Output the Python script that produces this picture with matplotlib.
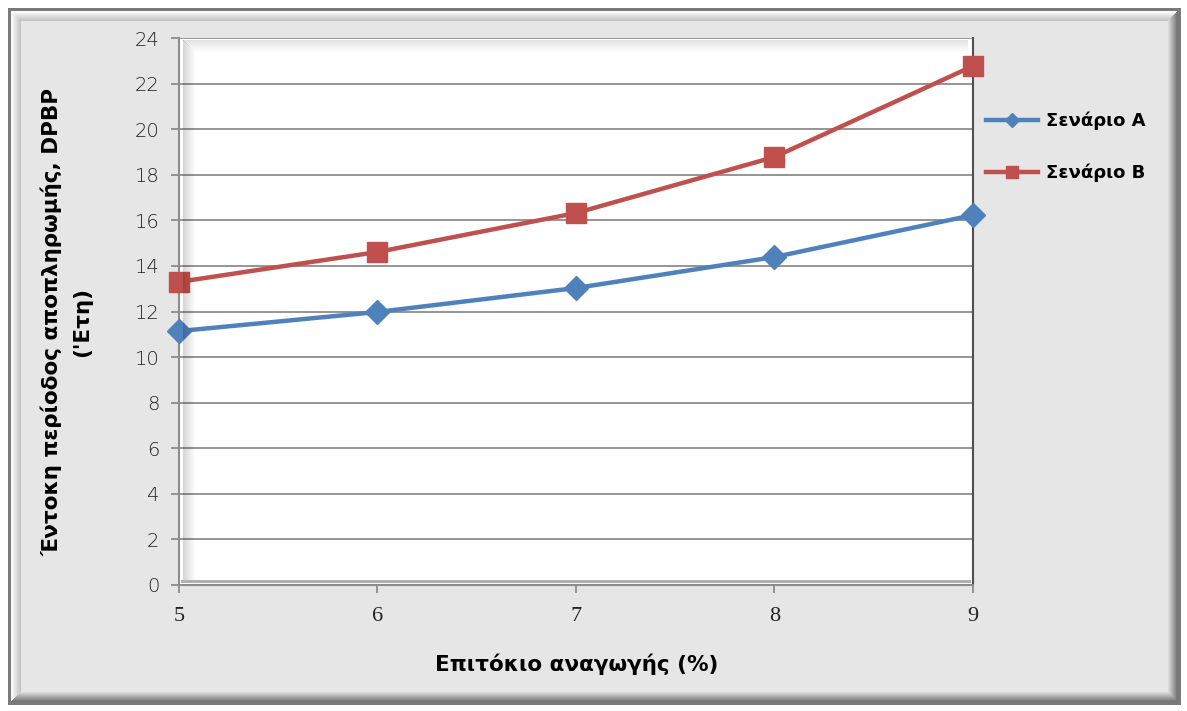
import numpy as np
import matplotlib.pyplot as plt
from matplotlib.patches import Rectangle
from matplotlib.lines import Line2D

rates = [5, 6, 7, 8, 9]
scenario_a = [11.14, 11.98, 13.03, 14.39, 16.23]
scenario_b = [13.30, 14.61, 16.32, 18.78, 22.77]
y_ticks = list(range(0, 25, 2))

BLUE = '#4F81BD'
RED = '#C0504D'
BG = '#e6e6e6'

W, H = 1187, 711
fig = plt.figure(figsize=(W / 100, H / 100), dpi=100, facecolor='white')
px = fig.dpi_scale_trans


def box(x, y, w, h, color, alpha=1.0, z=0):
    # pixel box measured from the top-left corner
    fig.add_artist(Rectangle(((x) / 100, (H - y - h) / 100), w / 100, h / 100,
                             transform=px, facecolor=color, edgecolor='none',
                             alpha=alpha, zorder=z))


# outer frame with bevel
box(8, 8, 1173, 697, '#7a7a7a', z=-10)
box(11, 11, 1167, 691, BG, z=-9)
for i in range(10):
    g = 0.99 - i * 0.025
    box(11 + i, 11 + i, 1167 - 2 * i, 1, (g, g, g), z=-8)          # top
    box(11 + i, 11 + i, 1, 691 - 2 * i, (g, g, g), z=-8)           # left
    d = 0.45 + i * 0.045
    box(11 + i, 701 - i, 1167 - 2 * i, 1, (d, d, d), z=-8)         # bottom
    box(1177 - i, 11 + i, 1, 691 - 2 * i, (d, d, d), z=-8)         # right

ax = fig.add_axes([179 / W, 1 - 585 / H, (973 - 179) / W, (585 - 38) / H])
ax.set_facecolor('white')

ax.plot(rates, scenario_a, color=BLUE, lw=3.2, marker='D', ms=12,
        label='Σενάριο A', zorder=5, clip_on=False, solid_capstyle='round')
ax.plot(rates, scenario_b, color=RED, lw=3.2, marker='s', ms=14,
        label='Σενάριο B', zorder=5, clip_on=False, solid_capstyle='round')

ax.set_xlim(5, 9)
ax.set_ylim(0, 24)
ax.set_xticks(rates)
ax.set_yticks(y_ticks)
ax.grid(axis='y', color='#8c8c8c', lw=1.3)
ax.set_axisbelow(True)

ax.spines['top'].set_visible(False)
ax.spines['left'].set_color('#8c8c8c')
ax.spines['left'].set_linewidth(1.5)
ax.spines['bottom'].set_color('#8c8c8c')
ax.spines['bottom'].set_linewidth(1.5)
ax.spines['right'].set_color('#505050')
ax.spines['right'].set_linewidth(1.5)

ax.tick_params(axis='both', direction='out', length=6, width=1.3, color='#8c8c8c')
ax.tick_params(axis='y', pad=8)
ax.tick_params(axis='x', pad=10)
for t in ax.get_yticklabels():
    t.set_fontsize(14)
    t.set_color('#222222')
    t.set_fontweight('light')
for t in ax.get_xticklabels():
    t.set_fontsize(16)
    t.set_fontfamily('Liberation Serif')
    t.set_color('#222222')

# inner bevel of the plot area
for i in range(12):
    a = 0.16 * (1 - i / 12)
    box(183 + i, 40 + i, 1, 541 - i, 'black', alpha=a, z=1)
    box(183 + i, 40 + i, 785 - i, 1, 'black', alpha=a * 0.7, z=1)
box(181, 580, 790, 3, '#b0b0b0', z=1)

label_font = dict(fontsize=15.5, fontweight='bold', family='DejaVu Sans',
                  color='black')
fig.text(577 / W, 1 - 664 / H, 'Επιτόκιο αναγωγής (%)', ha='center', va='center',
         **label_font)
fig.text(67 / W, 1 - 322 / H, 'Έντοκη περίοδος αποπληρωμής, DPBP\n(\'Ετη)',
         ha='center', va='center', rotation=90, linespacing=1.6, **label_font)

handles = [Line2D([], [], color=BLUE, lw=3.2, marker='D', ms=7),
           Line2D([], [], color=RED, lw=3.2, marker='s', ms=9)]
fig.legend(handles, ['Σενάριο A', 'Σενάριο B'], loc='center left',
           bbox_to_anchor=(986 / W, 1 - 147 / H), frameon=False,
           borderpad=0, borderaxespad=0,
           handlelength=2.9, handletextpad=0.4, labelspacing=1.85,
           prop=dict(size=13, weight='bold', family='DejaVu Sans'))

fig.savefig('out.png', dpi=100, facecolor=fig.get_facecolor())
